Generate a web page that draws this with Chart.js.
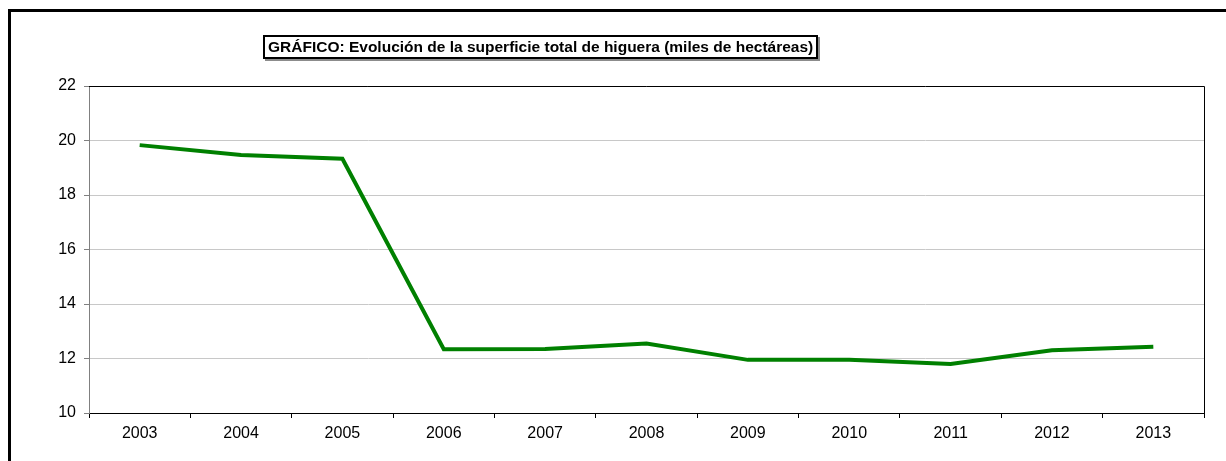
<!DOCTYPE html>
<html lang="es">
<head>
<meta charset="utf-8">
<title>Superficie de higuera</title>
<script src="https://cdn.jsdelivr.net/npm/chart.js@4/dist/chart.umd.min.js"></script>
<style>
    html, body { margin: 0; padding: 0; background: #fff; overflow: hidden; }
    #wrap { position: relative; width: 1226px; height: 461px; }
    #marco {
        position: absolute; left: 8px; top: 9px;
        width: 1300px; height: 500px;
        border: 3px solid #000; box-sizing: border-box;
    }
    #titulo {
        position: absolute; left: 263px; top: 35px;
        padding: 1px 3px 1px 3px;
        border: 2px solid #000; background: #fff;
        box-shadow: 2px 2px 0 #8c8c8c;
        font: bold 15.5px "Liberation Sans", Arial, sans-serif;
        line-height: 18px;
        white-space: nowrap;
    }
    canvas { position: absolute; left: 0; top: 0; }
</style>
</head>
<body>
<div id="wrap">
    <canvas id="grafico" width="1226" height="461"></canvas>
    <div id="marco"></div>
    <div id="titulo">GRÁFICO: Evolución de la superficie total de higuera (miles de hectáreas)</div>
</div>
<script>
// Superficie total de higuera, miles de hectáreas
const anios = ['2003', '2004', '2005', '2006', '2007', '2008', '2009', '2010', '2011', '2012', '2013'];
const superficie = [19.83, 19.47, 19.33, 12.34, 12.35, 12.55, 11.95, 11.95, 11.8, 12.3, 12.43];

const yMin = 10;
const yMax = 22;
const yPaso = 2;

const fuente = { family: '"Liberation Sans", Arial, sans-serif', size: 16 };

// Borde negro arriba y a la derecha del área de trazado
const bordeArea = {
    id: 'bordeArea',
    afterDraw(chart) {
        const { ctx, chartArea: a } = chart;
        ctx.save();
        ctx.strokeStyle = '#000';
        ctx.lineWidth = 1;
        ctx.beginPath();
        ctx.moveTo(a.left, a.top + 0.5);
        ctx.lineTo(a.right + 0.5, a.top + 0.5);
        ctx.lineTo(a.right + 0.5, a.bottom);
        ctx.stroke();
        ctx.restore();
    }
};

const ctx = document.getElementById('grafico').getContext('2d');
new Chart(ctx, {
    type: 'line',
    data: {
        labels: anios,
        datasets: [{
            data: superficie,
            borderColor: '#008000',
            borderWidth: 4,
            pointRadius: 0,
            tension: 0,
            fill: false
        }]
    },
    options: {
        responsive: false,
        animation: false,
        layout: { padding: { top: 86, right: 22, left: 0, bottom: 0 } },
        plugins: {
            legend: { display: false },
            tooltip: { enabled: false },
            title: { display: false }
        },
        scales: {
            x: {
                offset: true,
                grid: {
                    offset: true,
                    drawOnChartArea: false,
                    drawTicks: true,
                    tickLength: 5,
                    color: '#000'
                },
                border: { color: '#000', width: 1 },
                ticks: {
                    color: '#000',
                    padding: 6,
                    maxRotation: 0,
                    autoSkip: false,
                    font: fuente
                },
                afterFit(scale) { scale.height = 48; }
            },
            y: {
                min: yMin,
                max: yMax,
                grid: {
                    color: '#c8c8c8',
                    drawTicks: true,
                    tickLength: 5,
                    tickColor: '#808080'
                },
                border: { color: '#808080', width: 1 },
                ticks: {
                    stepSize: yPaso,
                    color: '#000',
                    padding: 8,
                    font: fuente
                },
                afterFit(scale) { scale.width = 89; }
            }
        }
    },
    plugins: [bordeArea]
});
</script>
</body>
</html>
